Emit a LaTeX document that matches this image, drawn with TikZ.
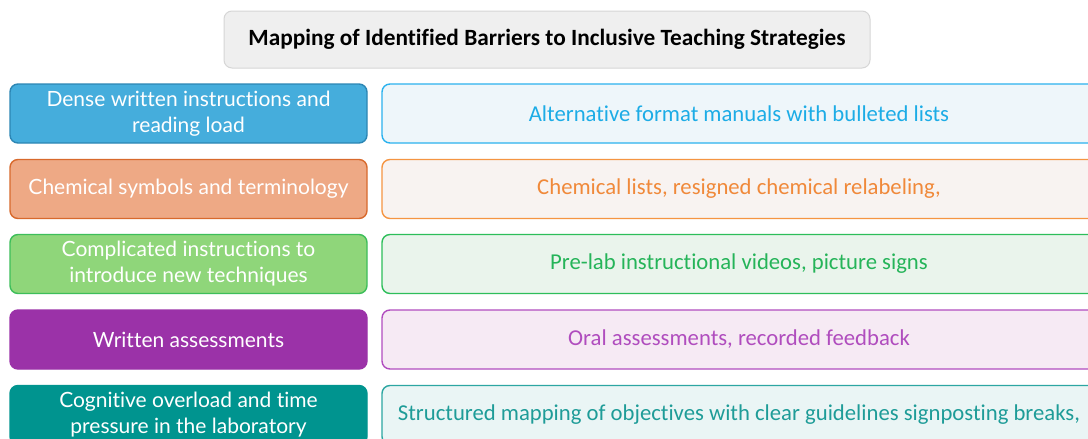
\documentclass[tikz,border=0pt]{standalone}
\usepackage{fontspec}
\setmainfont{Lato}[Ligatures=NoCommon]
\newfontfamily\narrowfont{Carlito}[Ligatures=NoCommon]
\begin{document}
\begin{tikzpicture}[x=1pt,y=-1pt,
  box/.style={rounded corners=8pt, line width=1.4pt, align=center,
    inner sep=0pt, minimum height=59pt},
  barrier/.style 2 args={box, fill=#1, draw=#2, text=white,
    minimum width=357pt, font=\fontsize{21}{26}\selectfont},
  strategy/.style n args={3}{box, fill=#1, draw=#2, text=#3,
    minimum width=714pt, font=\narrowfont\fontsize{22.7}{26}\selectfont},
  titlebox/.style={rounded corners=8pt, line width=1pt, fill=titlefill,
    draw=titleline, minimum width=646pt, minimum height=57pt,
    font=\narrowfont\bfseries\fontsize{23.3}{26}\selectfont}]
\definecolor{titlefill}{HTML}{EFEFEF}
\definecolor{titleline}{HTML}{D6D6D6}
\definecolor{bluefill}{HTML}{45ADDC}
\definecolor{blueline}{HTML}{2C86B4}
\definecolor{bluesoft}{HTML}{EEF6FA}
\definecolor{bluebright}{HTML}{2BB2EE}
\definecolor{bluetext}{HTML}{1CACE6}
\definecolor{orangefill}{HTML}{EEA985}
\definecolor{orangeline}{HTML}{D8692C}
\definecolor{orangesoft}{HTML}{F8F3F1}
\definecolor{orangebright}{HTML}{F59542}
\definecolor{orangetext}{HTML}{F0893A}
\definecolor{greenfill}{HTML}{8FD67A}
\definecolor{greenline}{HTML}{3DBE5A}
\definecolor{greensoft}{HTML}{EAF4EC}
\definecolor{greenbright}{HTML}{2DBE5A}
\definecolor{greentext}{HTML}{25B459}
\definecolor{purplefill}{HTML}{9B32A8}
\definecolor{purpleline}{HTML}{9B32A8}
\definecolor{purplesoft}{HTML}{F6EAF4}
\definecolor{purplebright}{HTML}{B14DBF}
\definecolor{purpletext}{HTML}{B04DBE}
\definecolor{tealfill}{HTML}{00948F}
\definecolor{tealline}{HTML}{00948F}
\definecolor{tealsoft}{HTML}{EAF5F5}
\definecolor{tealbright}{HTML}{2CA6A2}
\definecolor{tealtext}{HTML}{1E9C98}

\useasboundingbox (0,0) rectangle (1088,439);
\clip (0,0) rectangle (1088,439);
\fill[white] (0,0) rectangle (1088,439);

\node[titlebox] (title) at (547,39.5)
  {Mapping of Identified Barriers to Inclusive Teaching Strategies};

% barriers (left column)
\node[barrier={bluefill}{blueline}] (b1) at (188.5,113.5)
  {Dense written instructions and\\reading load};
\node[barrier={orangefill}{orangeline}] (b2) at (188.5,189)
  {Chemical symbols and terminology};
\node[barrier={greenfill}{greenline}] (b3) at (188.5,264)
  {Complicated instructions to\\introduce new techniques};
\node[barrier={purplefill}{purpleline}] (b4) at (188.5,339.5)
  {Written assessments};
\node[barrier={tealfill}{tealline}] (b5) at (188.5,415)
  {Cognitive overload and time\\pressure in the laboratory};

% strategies (right column)
\node[strategy={bluesoft}{bluebright}{bluetext}] (s1) at (739,113.5)
  {Alternative format manuals with bulleted lists};
\node[strategy={orangesoft}{orangebright}{orangetext}] (s2) at (739,189)
  {Chemical lists, resigned chemical relabeling,};
\node[strategy={greensoft}{greenbright}{greentext}] (s3) at (739,264)
  {Pre-lab instructional videos, picture signs};
\node[strategy={purplesoft}{purplebright}{purpletext}] (s4) at (739,339.5)
  {Oral assessments, recorded feedback};
\node[strategy={tealsoft}{tealbright}{tealtext}] (s5) at (739,415)
  {Structured mapping of objectives with clear guidelines signposting breaks,};
\end{tikzpicture}
\end{document}
